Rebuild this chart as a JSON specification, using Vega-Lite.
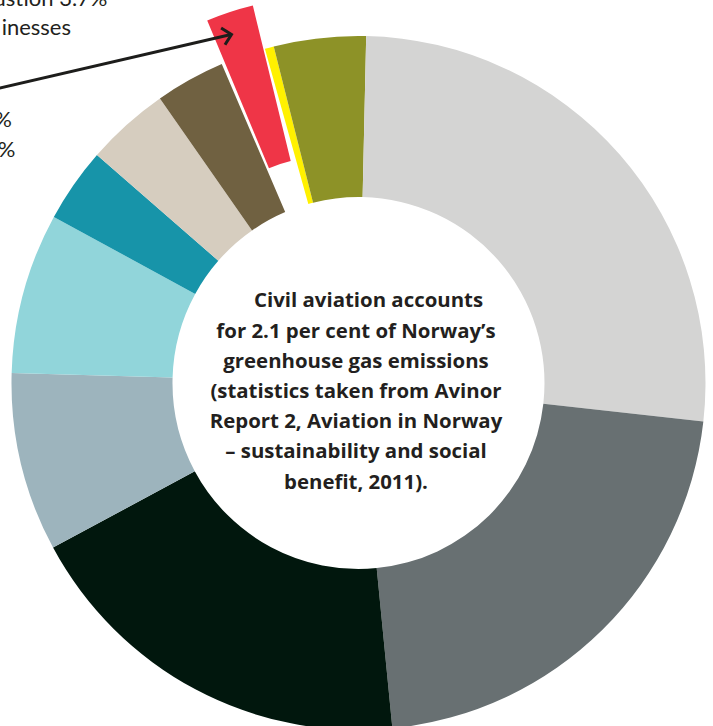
{
  "$schema": "https://vega.github.io/schema/vega-lite/v6.json",
  "width": 709,
  "height": 686,
  "autosize": {"type": "none"},
  "padding": {"left": 4, "top": 40, "right": 0, "bottom": 0},
  "background": "#ffffff",
  "config": {"view": {"stroke": null}},
  "resolve": {"scale": {"theta": "independent"}},
  "datasets": {
    "shares": [
      {"rank": 1, "source": "Segment 1 (yellow)", "share": 0.42},
      {"rank": 2, "source": "Segment 2 (olive)", "share": 4.28},
      {"rank": 3, "source": "Segment 3 (light grey)", "share": 26.42},
      {"rank": 4, "source": "Segment 4 (dark grey)", "share": 21.67},
      {"rank": 5, "source": "Segment 5 (black)", "share": 18.69},
      {"rank": 6, "source": "Segment 6 (blue grey)", "share": 8.33},
      {"rank": 7, "source": "Segment 7 (light turquoise)", "share": 7.48},
      {"rank": 8, "source": "Segment 8 (teal)", "share": 3.47},
      {"rank": 9, "source": "Segment 9 (beige)", "share": 3.89},
      {"rank": 10, "source": "Segment 10 (brown)", "share": 3.25},
      {"rank": 11, "source": "Civil aviation", "share": 2.1}
    ],
    "labels": [
      {"x": 107.5, "y": 6, "label": "ustion 3.7%"},
      {"x": 71, "y": 35, "label": "inesses"},
      {"x": 12, "y": 127, "label": "%"},
      {"x": 15.5, "y": 157, "label": "%"}
    ],
    "arrow": [
      {"x": -10, "y": 90.3, "x2": 230, "y2": 34.7}
    ],
    "arrowhead": [
      {"x": 231.5, "y": 34.4}
    ],
    "centre": [
      {"x": 356, "y": 307.3}
    ]
  },
  "layer": [
    {
      "data": {"name": "shares"},
      "transform": [{"filter": "datum.source !== 'Civil aviation'"}],
      "mark": {"type": "arc", "radius": 347, "radius2": 186},
      "encoding": {
        "theta": {
          "field": "share",
          "type": "quantitative",
          "stack": true,
          "scale": {"domain": [0, 100], "range": [-0.27314, 6.01005]}
        },
        "order": {"field": "rank", "type": "quantitative"},
        "color": {
          "field": "source",
          "type": "nominal",
          "legend": null,
          "scale": {
            "domain": [
              "Segment 1 (yellow)", "Segment 2 (olive)", "Segment 3 (light grey)",
              "Segment 4 (dark grey)", "Segment 5 (black)", "Segment 6 (blue grey)",
              "Segment 7 (light turquoise)", "Segment 8 (teal)", "Segment 9 (beige)",
              "Segment 10 (brown)"
            ],
            "range": [
              "#fff100", "#8d9227", "#d4d4d3", "#687072", "#01170d", "#9db4bd",
              "#91d5da", "#1794a9", "#d6cdbf", "#706141"
            ]
          }
        }
      }
    },
    {
      "data": {"name": "shares"},
      "transform": [{"filter": "datum.source === 'Civil aviation'"}],
      "mark": {"type": "arc", "radius": 306, "radius2": 146, "xOffset": -33.2, "yOffset": -80.1, "color": "#ef3547"},
      "encoding": {
        "theta": {
          "field": "share",
          "type": "quantitative",
          "scale": {"domain": [0, 2.1], "range": [5.8870, 6.0441]}
        }
      }
    },
    {
      "data": {"name": "arrow"},
      "mark": {"type": "rule", "stroke": "#1d1d1b", "strokeWidth": 3},
      "encoding": {
        "x": {"field": "x", "type": "quantitative", "axis": null, "scale": {"domain": [4, 713], "nice": false, "zero": false}},
        "y": {"field": "y", "type": "quantitative", "axis": null, "scale": {"domain": [40, 726], "nice": false, "zero": false, "reverse": true}},
        "x2": {"field": "x2"},
        "y2": {"field": "y2"}
      }
    },
    {
      "data": {"name": "arrowhead"},
      "mark": {"type": "point", "shape": "M-1,-1L0,0L-1,1", "filled": false, "stroke": "#1d1d1b", "strokeWidth": 3, "size": 300, "angle": 347, "opacity": 1},
      "encoding": {
        "x": {"field": "x", "type": "quantitative"},
        "y": {"field": "y", "type": "quantitative"}
      }
    },
    {
      "data": {"name": "labels"},
      "mark": {"type": "text", "align": "right", "baseline": "alphabetic", "font": "Lato", "fontSize": 22, "fontWeight": "normal", "color": "#231f20"},
      "encoding": {
        "x": {"field": "x", "type": "quantitative"},
        "y": {"field": "y", "type": "quantitative"},
        "text": {"field": "label"}
      }
    },
    {
      "data": {"name": "centre"},
      "mark": {
        "type": "text",
        "align": "center",
        "baseline": "alphabetic",
        "font": "Open Sans",
        "fontSize": 20.4,
        "fontWeight": "bold",
        "color": "#231f20",
        "dx": 12.5,
        "text": "Civil aviation accounts"
      },
      "encoding": {
        "x": {"field": "x", "type": "quantitative"},
        "y": {"field": "y", "type": "quantitative"}
      }
    },
    {
      "data": {"name": "centre"},
      "mark": {
        "type": "text",
        "align": "center",
        "baseline": "alphabetic",
        "font": "Open Sans",
        "fontSize": 20.4,
        "fontWeight": "bold",
        "lineHeight": 30.2,
        "dy": 30.2,
        "color": "#231f20",
        "text": [
          "for 2.1 per cent of Norway\u2019s",
          "greenhouse gas emissions",
          "(statistics taken from Avinor",
          "Report 2, Aviation in Norway",
          "\u2013 sustainability and social",
          "benefit, 2011)."
        ]
      },
      "encoding": {
        "x": {"field": "x", "type": "quantitative"},
        "y": {"field": "y", "type": "quantitative"}
      }
    }
  ]
}
